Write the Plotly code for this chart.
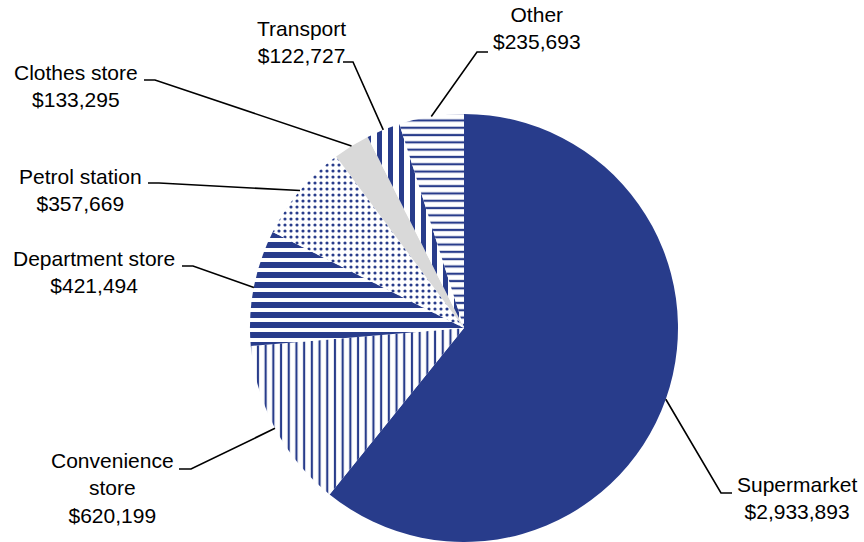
import math
import plotly.graph_objects as go

# ---- data ----
categories = ["Supermarket", "Convenience store", "Department store", "Petrol station",
              "Clothes store", "Transport", "Other"]
values = [2933893, 620199, 421494, 357669, 133295, 122727, 235693]
label_texts = ["Supermarket<br>$2,933,893", "Convenience<br>store<br>$620,199",
               "Department store<br>$421,494", "Petrol station<br>$357,669",
               "Clothes store<br>$133,295", "Transport<br>$122,727", "Other<br>$235,693"]

# ---- style / layout ----
W, H = 864, 542
BLUE = "#283c8b"
GRAY = "#d9d9d9"
fill_colors = [BLUE, "white", "white", "white", GRAY, "white", "white"]
pat_shapes = ["", "|", "-", ".", "", "|", "-"]
pat_sizes = [8, 7.7, 10, 6, 8, 11, 7.3]
pat_solid = [0.3, 0.28, 0.6, 0.22, 0.3, 0.45, 0.3]

CX, CY, R = 464, 328, 214  # pixel centre and radius of pie
# label block centres (pixels) and elbow points (pixels: end of horizontal tick, elbow)
label_pos = [(797, 498), (112, 488), (94, 272), (80, 190), (76, 86), (301, 42), (537, 28)]
elbows = [((732, 493), (721, 493)), ((179, 469), (191, 469)), ((182, 266), (193, 266)),
          ((148, 183), (159, 183)), ((144, 80), (155, 80)), ((343, 62), (353, 62)),
          ((488, 52), (477, 52))]


def px2paper(x, y):
    return x / W, 1 - y / H


fig = go.Figure(go.Pie(
    labels=categories, values=values, sort=False, direction="clockwise", rotation=0,
    textinfo="none", hoverinfo="label+value",
    marker=dict(colors=fill_colors, line=dict(width=0),
                pattern=dict(shape=pat_shapes, size=pat_sizes, solidity=pat_solid,
                             fgcolor=BLUE, fillmode="replace")),
    domain=dict(x=[(CX - R) / W, (CX + R) / W], y=[(H - CY - R) / H, (H - CY + R) / H]),
))

total = sum(values)
shapes = []
annotations = []
cum = 0
for i, v in enumerate(values):
    mid = (cum + v / 2) / total * 2 * math.pi
    cum += v
    ex, ey = CX + R * math.sin(mid), CY - R * math.cos(mid)
    (x0, y0), (x1, y1) = elbows[i]
    pts = [px2paper(x0, y0), px2paper(x1, y1), px2paper(ex, ey)]
    path = "M {} {} L {} {} L {} {}".format(*[c for p in pts for c in p])
    shapes.append(dict(type="path", path=path, xref="paper", yref="paper",
                       line=dict(color="black", width=1.6)))
    lx, ly = px2paper(*label_pos[i])
    annotations.append(dict(x=lx, y=ly, xref="paper", yref="paper", text=label_texts[i],
                            showarrow=False, xanchor="center", yanchor="middle",
                            align="center", font=dict(size=21, color="black",
                                                      family="Liberation Sans, Arial")))

fig.update_layout(width=W, height=H, margin=dict(l=0, r=0, t=0, b=0),
                  showlegend=False, paper_bgcolor="white", plot_bgcolor="white",
                  shapes=shapes, annotations=annotations)

fig.write_html("out.html", config={"displayModeBar": False},
               post_script="document.body.style.margin='0';document.body.style.overflow='hidden';")
